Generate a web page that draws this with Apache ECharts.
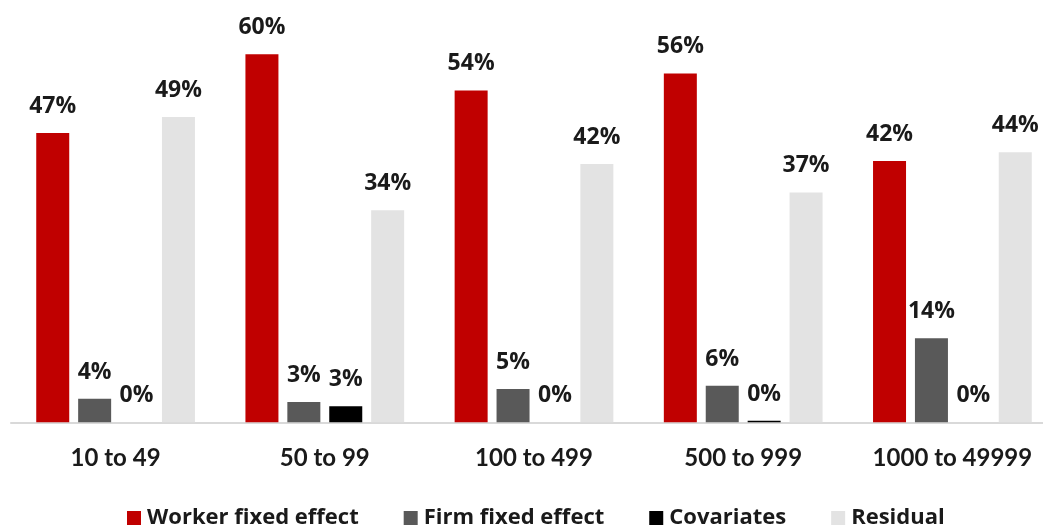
<!DOCTYPE html>
<html>
<head>
<meta charset="utf-8">
<script src="https://cdn.jsdelivr.net/npm/echarts@6/dist/echarts.min.js"></script>
<style>
html,body{margin:0;padding:0;background:#fff;}
#chart{width:1043px;height:529px;}
</style>
</head>
<body>
<div id="chart"></div>
<script>
const categories = ['10 to 49', '50 to 99', '100 to 499', '500 to 999', '1000 to 49999'];
const seriesNames = ['Worker fixed effect', 'Firm fixed effect', 'Covariates', 'Residual'];
const workerFE = [46.8, 59.55, 53.7, 56.45, 42.3];
const firmFE = [3.8, 3.3, 5.4, 5.9, 13.6];
const covariates = [0, 2.6, 0, 0.26, 0];
const residual = [49.4, 34.3, 41.8, 37.2, 43.7];
const colors = ['#C00000', '#595959', '#000000', '#E3E3E3'];

const chart = echarts.init(document.getElementById('chart'), null, {renderer: 'canvas'});
const labelFont = {fontFamily: 'Open Sans', fontWeight: 'bold', fontSize: 23, color: '#1a1a1a'};
function mk(name, data, color) {
  return {
    name: name, type: 'bar', data: data,
    barWidth: 33, barGap: '27%',
    itemStyle: {color: color},
    label: Object.assign({show: true, position: 'top', distance: 15,
      formatter: p => Math.round(p.value) + '%'}, labelFont)
  };
}
chart.setOption({
  animation: false,
  color: colors,
  grid: {left: 11, width: 1046, top: 20.6, bottom: 106.7, outerBoundsMode: 'none', containLabel: false},
  legend: {
    left: 122, bottom: -5, icon: 'rect', itemWidth: 14, itemHeight: 14, itemGap: 45,
    textStyle: {fontFamily: 'Open Sans', fontWeight: 'bold', fontSize: 22, color: '#1a1a1a', padding: [0, 0, 0, 1]},
    data: seriesNames
  },
  xAxis: {
    type: 'category', data: categories,
    axisLine: {lineStyle: {color: '#d9d9d9', width: 2}},
    axisTick: {show: false},
    axisLabel: {interval: 0, fontFamily: 'Lato', fontWeight: 'bold', fontSize: 24, color: '#1a1a1a', margin: 24}
  },
  yAxis: {type: 'value', min: 0, max: 65, show: false, splitLine: {show: false}},
  series: [
    mk(seriesNames[0], workerFE, colors[0]),
    mk(seriesNames[1], firmFE, colors[1]),
    mk(seriesNames[2], covariates, colors[2]),
    mk(seriesNames[3], residual, colors[3])
  ]
});
</script>
</body>
</html>
